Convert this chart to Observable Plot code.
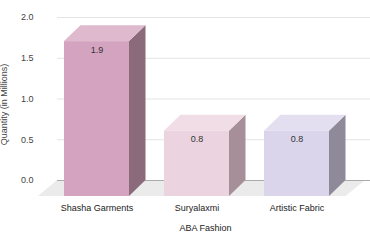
<!DOCTYPE html>
<html>
<head>
<meta charset="utf-8">
<script src="https://cdn.jsdelivr.net/npm/d3@7"></script>
<script src="https://cdn.jsdelivr.net/npm/@observablehq/plot@0.6"></script>
<style>
  html, body { margin: 0; padding: 0; background: #fff; }
  svg { display: block; }
</style>
</head>
<body>
<div id="chart"></div>
<script>
const categories = ["Shasha Garments", "Suryalaxmi", "Artistic Fabric"];
const values = [1.9, 0.8, 0.8];
const frontColors = ["#d4a3bf", "#ebd4df", "#dbd5eb"];
const topColors = ["#dfb9cd", "#f0dde6", "#e4dff0"];
const sideColors = ["#8b6b7b", "#a68f99", "#8e8a9a"];
const yTicks = [0, 0.5, 1, 1.5, 2];
const yTitle = "Quantity (in Millions)";
const xTitle = "ABA Fashion";

// 3D geometry (in scale units)
const hw = 0.325;   // half bar width
const ddx = 0.165;  // depth offset in x
const ddy = 0.196;  // depth offset in y

const bars = categories.map((c, i) => ({c, i, v: values[i], front: frontColors[i], top: topColors[i], side: sideColors[i]}));
const sideData = bars.flatMap(b => [
  {c: b.c, fill: b.side, x: b.i + hw, y1: -ddy, y2: b.v - ddy},
  {c: b.c, fill: b.side, x: b.i + hw + ddx, y1: 0, y2: b.v}
]);
const topData = bars.flatMap(b => [
  {c: b.c, fill: b.top, y: b.v - ddy, x1: b.i - hw, x2: b.i + hw},
  {c: b.c, fill: b.top, y: b.v, x1: b.i - hw + ddx, x2: b.i + hw + ddx}
]);
const floorData = [
  {y: -ddy, x1: -0.585, x2: 2.49},
  {y: 0, x1: -0.395, x2: 2.685}
];

const font = "'Liberation Sans', Arial, sans-serif";

const chart = Plot.plot({
  width: 370,
  height: 247,
  marginLeft: 37,
  marginRight: 0,
  marginTop: 17,
  marginBottom: 56,
  style: {fontFamily: font, fontSize: "9px", background: "#fff"},
  x: {type: "linear", domain: [0, 2], range: [96.5, 296.5], axis: null},
  y: {domain: [0, 2], range: [180, 17], axis: null},
  color: {type: "identity"},
  marks: [
    Plot.ruleY(yTicks.filter(d => d > 0), {x1: -0.395, x2: 2.735, stroke: "#e4e4e4", strokeWidth: 1}),
    Plot.areaX(floorData, {y: "y", x1: "x1", x2: "x2", fill: "#ebebeb"}),
    Plot.ruleY([0], {x1: -0.395, x2: 2.735, stroke: "#ababab", strokeWidth: 1}),
    Plot.axisY({ticks: yTicks, tickFormat: d3.format(".1f"), tickSize: 0, tickPadding: 4, fill: "#444", label: yTitle, labelAnchor: "center", labelArrow: "none", labelOffset: 37}),
    Plot.areaY(sideData, {x: "x", y1: "y1", y2: "y2", z: "c", fill: "fill"}),
    Plot.areaX(topData, {y: "y", x1: "x1", x2: "x2", z: "c", fill: "fill"}),
    Plot.rect(bars, {x1: d => d.i - hw, x2: d => d.i + hw, y1: -ddy, y2: d => d.v - ddy, fill: "front"}),
    Plot.text(bars, {x: "i", y: d => d.v - ddy, text: d => d3.format(".1f")(d.v), dy: 8, fill: "#333"}),
    Plot.text(bars, {x: "i", text: "c", frameAnchor: "bottom", dy: 19, fill: "#222"}),
    Plot.text([xTitle], {frameAnchor: "bottom", dx: 1.5, dy: 39.5, fill: "#222"})
  ]
});
document.getElementById("chart").appendChild(chart);
</script>
</body>
</html>
